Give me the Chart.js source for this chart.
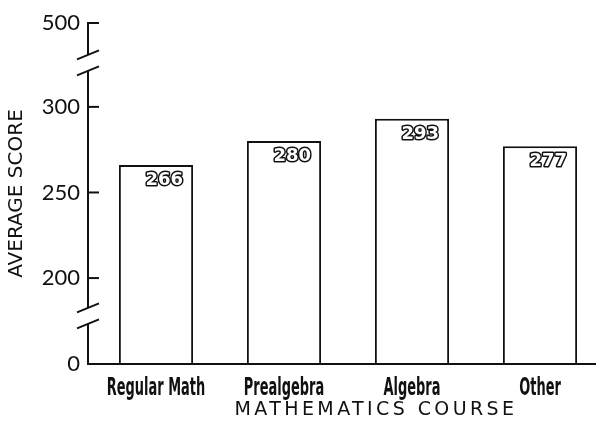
<!DOCTYPE html>
<html>
<head>
<meta charset="utf-8">
<script src="https://cdn.jsdelivr.net/npm/chart.js@4/dist/chart.umd.min.js"></script>
<style>
  html, body { margin: 0; padding: 0; background: #fff; }
  #wrap { width: 596px; height: 430px; }
</style>
</head>
<body>
<div id="wrap"><canvas id="c" width="596" height="430"></canvas></div>
<script>
// ---- data ----
const categories = ['Regular Math', 'Prealgebra', 'Algebra', 'Other'];
const scores = [266, 280, 293, 277];
const yTickValues = [0, 200, 250, 300, 500];
const yBreakValues = [0, 200, 300, 500];      // values bounding the broken-axis segments
const yTitle = 'AVERAGE SCORE';
const xTitle = 'MATHEMATICS COURSE';

const INK = '#111111';

// ---- a linear scale with axis breaks (piecewise mapping) ----
class BrokenScale extends Chart.LinearScale {
  _seg() {
    return { v: this.options.segmentValues, f: this.options.segmentFractions };
  }
  getPixelForValue(value) {
    const { v, f } = this._seg();
    let k = 0;
    while (k < v.length - 2 && value > v[k + 1]) k++;
    const dec = f[k] + (value - v[k]) / (v[k + 1] - v[k]) * (f[k + 1] - f[k]);
    return this.getPixelForDecimal(dec);
  }
  getValueForPixel(pixel) {
    const { v, f } = this._seg();
    const dec = this.getDecimalForPixel(pixel);
    let k = 0;
    while (k < f.length - 2 && dec > f[k + 1]) k++;
    return v[k] + (dec - f[k]) / (f[k + 1] - f[k]) * (v[k + 1] - v[k]);
  }
}
BrokenScale.id = 'broken';
BrokenScale.defaults = Chart.LinearScale.defaults;
Chart.register(BrokenScale);

// ---- decorations: axis lines, breaks, inward ticks, category labels, bar value labels, x title ----
const decor = {
  id: 'decor',
  afterDatasetsDraw(chart) {
    const { ctx, chartArea, scales: { x, y } } = chart;
    const ax = chartArea.left;
    const bottom = y.getPixelForValue(0);
    const top = y.getPixelForValue(500);
    const line = (x1, y1, x2, y2) => { ctx.beginPath(); ctx.moveTo(x1, y1); ctx.lineTo(x2, y2); ctx.stroke(); };
    ctx.save();
    ctx.strokeStyle = INK;
    ctx.lineWidth = 2;
    // x axis
    line(ax - 1, bottom, chart.width, bottom);
    // y axis with breaks
    const gap = 8;
    const br = y.options.breaks.map(v => y.getPixelForValue(v)).sort((a, b) => a - b);
    const pts = [top];
    br.forEach(b => { pts.push(b - gap, b + gap); });
    pts.push(bottom + 1);
    for (let i = 0; i < pts.length; i += 2) line(ax, pts[i] - (i === 0 ? 1 : 0), ax, pts[i + 1]);
    br.forEach(b => {
      [b - gap, b + gap].forEach(yy => line(ax - 11, yy + 4.5, ax + 11, yy - 4.5));
    });
    // inward tick marks
    y.ticks.forEach(t => {
      if (t.value === 0) return;
      const py = y.getPixelForValue(t.value);
      line(ax, py, ax + 11, py);
    });
    // condensed bold category labels at the x scale's tick positions
    ctx.fillStyle = INK;
    ctx.font = 'bold 24px "DejaVu Sans Condensed", "DejaVu Sans", sans-serif';
    ctx.textAlign = 'center';
    ctx.textBaseline = 'alphabetic';
    x.ticks.forEach(t => {
      ctx.save();
      ctx.translate(x.getPixelForValue(t.value), bottom + 31);
      ctx.scale(0.6, 1);
      ctx.fillText(categories[t.value], 0, 0);
      ctx.restore();
    });
    // outlined value labels inside bars
    const meta = chart.getDatasetMeta(0);
    ctx.font = 'bold 18px "DejaVu Sans"';
    ctx.textAlign = 'right';
    ctx.textBaseline = 'top';
    ctx.lineJoin = 'round';
    meta.data.forEach((el, i) => {
      const tx = el.x + el.width / 2 - 10;
      const ty = el.y + 6;
      ctx.lineWidth = 3;
      ctx.strokeStyle = INK;
      ctx.strokeText(String(scores[i]), tx, ty);
      ctx.fillStyle = '#ffffff';
      ctx.fillText(String(scores[i]), tx, ty);
    });
    // x axis title
    ctx.font = '19px "DejaVu Sans"';
    ctx.letterSpacing = '3.4px';
    ctx.fillStyle = INK;
    ctx.textAlign = 'center';
    ctx.textBaseline = 'middle';
    ctx.fillText(xTitle, (ax + chart.width) / 2 + 34, 410);
    ctx.restore();
  }
};

new Chart(document.getElementById('c'), {
  type: 'bar',
  data: {
    datasets: [{
      data: scores.map((s, i) => ({ x: i, y: s })),
      backgroundColor: '#ffffff',
      borderColor: INK,
      borderWidth: 2,
      borderSkipped: 'start',
      barPercentage: 0.58,
      categoryPercentage: 1
    }]
  },
  options: {
    responsive: false,
    animation: false,
    devicePixelRatio: 1,
    layout: { padding: { top: 23, right: 0, bottom: 0, left: 0 } },
    plugins: { legend: { display: false }, tooltip: { enabled: false } },
    scales: {
      x: {
        type: 'linear',
        offset: false,
        min: -0.53125,
        max: 3.4375,
        grid: { display: false, drawTicks: false, offset: false },
        border: { display: false },
        afterBuildTicks: s => { s.ticks = categories.map((c, i) => ({ value: i })); },
        afterFit: s => { s.height = 66; s.paddingLeft = 0; s.paddingRight = 0; },
        ticks: {
          display: false,
          autoSkip: false,
          callback: v => categories[v]
        }
      },
      y: {
        type: 'broken',
        min: 0,
        max: 500,
        segmentValues: yBreakValues,
        segmentFractions: [0, 0.252, 0.754, 1],
        breaks: [112, 405],
        grid: { display: false, drawTicks: false },
        border: { display: false },
        afterBuildTicks: s => { s.ticks = yTickValues.map(v => ({ value: v })); },
        afterFit: s => { s.width = 88; },
        ticks: {
          padding: 8,
          color: INK,
          font: { family: 'Lato', size: 22 }
        },
        title: {
          display: true,
          text: yTitle,
          color: INK,
          font: { family: '"DejaVu Sans"', size: 20 },
          padding: { top: 5, bottom: 0 }
        }
      }
    }
  },
  plugins: [decor]
});
</script>
</body>
</html>
